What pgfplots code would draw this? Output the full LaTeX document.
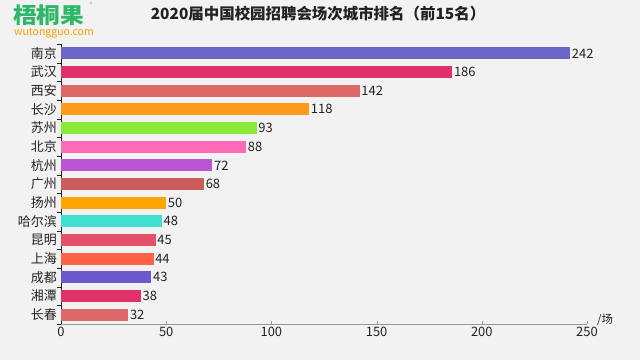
\documentclass[border=0pt]{standalone}
\usepackage{pgfplots}
\pgfplotsset{compat=1.18}
\usepackage{fontspec}
\setmainfont{Noto Sans CJK SC}
\definecolor{bg}{HTML}{F2F2F2}
\definecolor{ca}{HTML}{6A67C6}
\definecolor{cb}{HTML}{E2306C}
\definecolor{cc}{HTML}{DE6767}
\definecolor{cd}{HTML}{FF9A1A}
\definecolor{ce}{HTML}{8AE83A}
\definecolor{cf}{HTML}{FF6AB4}
\definecolor{cg}{HTML}{BA55D3}
\definecolor{ch}{HTML}{CD5C5C}
\definecolor{ci}{HTML}{FFA500}
\definecolor{cj}{HTML}{40E0D0}
\definecolor{ck}{HTML}{E2506A}
\definecolor{cl}{HTML}{FF6347}
\definecolor{cm}{HTML}{6A5ACD}
\definecolor{cn}{HTML}{E0306A}
\definecolor{co}{HTML}{DC6A6A}
\definecolor{logog}{HTML}{2CB866}
\definecolor{logoo}{HTML}{F5A000}
\definecolor{txt}{HTML}{222222}
\begin{document}
\begin{tikzpicture}[x=1bp,y=1bp]
\fill[bg] (0,0) rectangle (640,360);
\path[use as bounding box] (0,0) rectangle (640,360);
% logo
\node[anchor=base west, inner sep=0, text height=18bp, text depth=0bp, text=logog, font=\fontsize{22}{24}\selectfont\bfseries, xscale=1.08] at (13,337) {梧桐果};
\node[anchor=base west, inner sep=0, text height=6bp, text depth=0bp, text=logoo, font=\fontsize{10.5}{11}\selectfont] at (14,324.5) {wutongguo.com};
\node[inner sep=0, text=gray, font=\fontsize{5}{5}\selectfont] at (91,355) {®};
% title
\node[text=txt, font=\fontsize{15.5}{17}\selectfont\bfseries, inner sep=0] at (318,346) {2020届中国校园招聘会场次城市排名（前15名）};
\begin{axis}[
  at={(61bp,36bp)}, anchor=south west, scale only axis,
  width=526bp, height=280bp,
  xmin=0, xmax=250, ymin=-0.5, ymax=14.5,
  xbar, bar width=12bp, bar shift=0pt,
  axis x line*=bottom, axis y line*=left,
  x axis line style={draw=gray!80, -},
  y axis line style={draw=txt, -},
  xtick={0,50,100,150,200,250},
  xticklabel style={font=\fontsize{13}{15}\selectfont, text=txt},
  x tick style={draw=gray!80},
  xtick align=inside,
  major tick length=3bp,
  ytick={0,...,14},
  yticklabels={长春,湘潭,成都,上海,昆明,哈尔滨,扬州,广州,杭州,北京,苏州,长沙,西安,武汉,南京},
  yticklabel style={font=\fontsize{13}{15}\selectfont, text=txt, inner sep=1bp},
  every major y tick/.append style={draw=none},
  minor ytick={-0.5,0.5,...,14.5},
  every minor y tick/.append style={draw=txt},
  minor tick length=4bp,
  ytick align=outside,
  /pgf/number format/assume math mode=true,
  nodes near coords,
  nodes near coords style={font=\fontsize{13}{15}\selectfont, text=txt, anchor=west, inner sep=1.5bp},
  clip=false,
]
\addplot[fill=ca, draw=none] coordinates {(242,14)};
\addplot[fill=cb, draw=none] coordinates {(186,13)};
\addplot[fill=cc, draw=none] coordinates {(142,12)};
\addplot[fill=cd, draw=none] coordinates {(118,11)};
\addplot[fill=ce, draw=none] coordinates {(93,10)};
\addplot[fill=cf, draw=none] coordinates {(88,9)};
\addplot[fill=cg, draw=none] coordinates {(72,8)};
\addplot[fill=ch, draw=none] coordinates {(68,7)};
\addplot[fill=ci, draw=none] coordinates {(50,6)};
\addplot[fill=cj, draw=none] coordinates {(48,5)};
\addplot[fill=ck, draw=none] coordinates {(45,4)};
\addplot[fill=cl, draw=none] coordinates {(44,3)};
\addplot[fill=cm, draw=none] coordinates {(43,2)};
\addplot[fill=cn, draw=none] coordinates {(38,1)};
\addplot[fill=co, draw=none] coordinates {(32,0)};
\end{axis}
\node[anchor=west, inner sep=0, text=txt, font=\fontsize{11.5}{13}\selectfont] at (597,40) {/场};
\end{tikzpicture}
\end{document}
